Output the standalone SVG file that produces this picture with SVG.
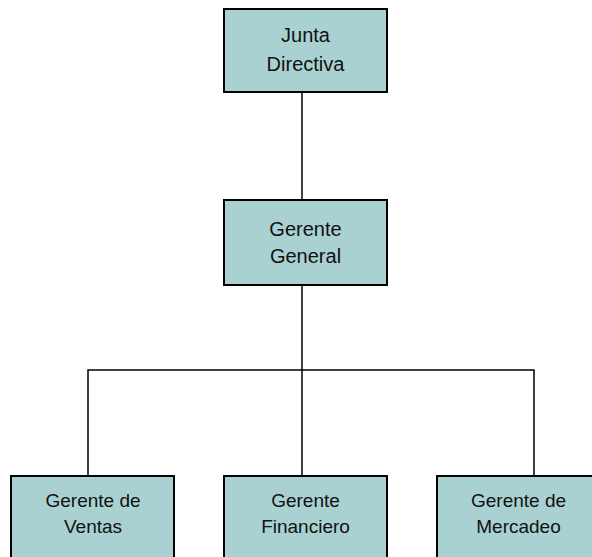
<svg xmlns="http://www.w3.org/2000/svg" width="592" height="557" viewBox="0 0 592 557">
<style>
.box{fill:#a9d1d1;stroke:#000;stroke-width:2}
.lbl{font-family:"Liberation Sans",Arial,sans-serif;font-size:20px;fill:#111;text-anchor:middle}
.lbl2{font-family:"Liberation Sans",Arial,sans-serif;font-size:19px;fill:#111;text-anchor:middle}
.con{stroke:#000;stroke-width:1.5;fill:none}
</style>
<rect width="592" height="557" fill="#fff"/>
<g id="connectors">
<line class="con" x1="302" y1="92" x2="302" y2="200"/>
<line class="con" x1="302" y1="285" x2="302" y2="476"/>
<polyline class="con" points="88,476 88,370 534,370 534,476"/>
</g>
<g id="junta">
<rect class="box" x="224" y="9" width="163" height="83"/>
<text class="lbl" x="305.5" y="42">Junta</text>
<text class="lbl" x="305.5" y="71">Directiva</text>
</g>
<g id="gerente-general">
<rect class="box" x="224" y="200" width="163" height="85"/>
<text class="lbl" x="305.5" y="236">Gerente</text>
<text class="lbl" x="305.5" y="263">General</text>
</g>
<g id="gerente-ventas">
<rect class="box" x="11" y="476" width="163" height="90"/>
<text class="lbl2" x="93" y="507">Gerente de</text>
<text class="lbl2" x="93" y="533">Ventas</text>
</g>
<g id="gerente-financiero">
<rect class="box" x="224" y="476" width="163" height="90"/>
<text class="lbl2" x="305.5" y="507">Gerente</text>
<text class="lbl2" x="305.5" y="533">Financiero</text>
</g>
<g id="gerente-mercadeo">
<rect class="box" x="437" y="476" width="163" height="90"/>
<text class="lbl2" x="518.5" y="507">Gerente de</text>
<text class="lbl2" x="518.5" y="533">Mercadeo</text>
</g>
</svg>
